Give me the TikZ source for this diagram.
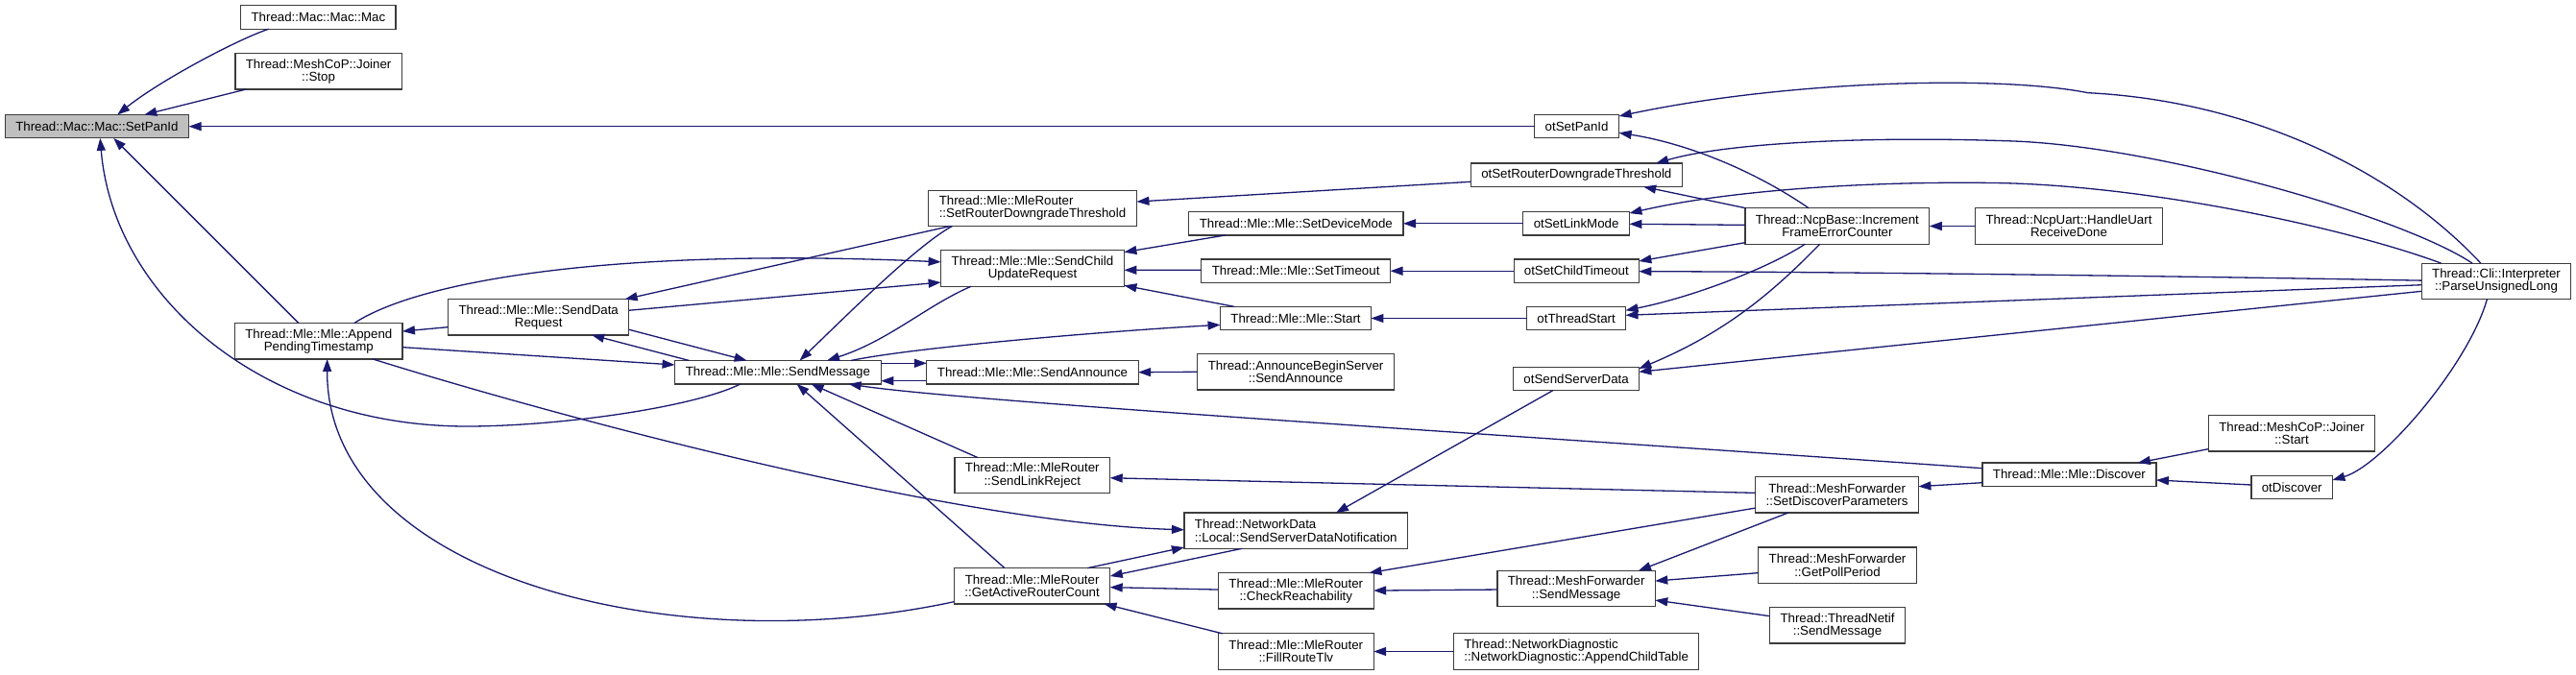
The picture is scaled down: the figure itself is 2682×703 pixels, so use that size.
\documentclass[tikz,border=0pt]{standalone}
\usepackage{fontspec}
\setmainfont{Liberation Sans}
\usetikzlibrary{arrows.meta}
\definecolor{edgeblue}{RGB}{25,25,112}
\definecolor{nodeborder}{RGB}{60,60,60}
\definecolor{rootgray}{RGB}{191,191,191}
\tikzset{
  fn/.style={draw=nodeborder, line width=1.2pt, fill=white, inner sep=0pt, outer sep=0pt, align=center, font=\fontsize{13.3}{13.3}\selectfont},
  oneln/.style={minimum height=24.4pt},
  twoln/.style={minimum height=37.3pt},
  cedge/.style={draw=edgeblue, line width=1.3pt, -{Triangle[length=13pt,width=9pt]}},
}
\begin{document}
\begin{tikzpicture}[x=1pt,y=-1pt]
\fill[white] (0,0) rectangle (2682,703);
\useasboundingbox (0,0) rectangle (2682,703);
% nodes
\node[fn,oneln,minimum width=161.3pt] (mac) at (331.4,18.0) {Thread::Mac::Mac::Mac};
\node[fn,twoln,minimum width=173.1pt] (stop) at (331.6,74.4) {Thread::MeshCoP::Joiner\\::Stop};
\node[fn,oneln,minimum width=191.3pt,fill=rootgray] (setpanid) at (100.9,131.7) {Thread::Mac::Mac::SetPanId};
\node[fn,twoln,minimum width=188.2pt] (sdr) at (560.7,330.3) {Thread::Mle::Mle::SendData\\Request};
\node[fn,twoln,minimum width=174.3pt] (apt) at (331.8,355.3) {Thread::Mle::Mle::Append\\PendingTimestamp};
\node[fn,twoln,minimum width=216.9pt,align=left] (srdt) at (1075.0,216.8) {Thread::Mle::MleRouter\\::SetRouterDowngradeThreshold};
\node[fn,twoln,minimum width=190.8pt] (scur) at (1075.0,279.5) {Thread::Mle::Mle::SendChild\\UpdateRequest};
\node[fn,oneln,minimum width=223.4pt] (sdm) at (1349.3,232.8) {Thread::Mle::Mle::SetDeviceMode};
\node[fn,oneln,minimum width=196.8pt] (sto) at (1349.1,282.2) {Thread::Mle::Mle::SetTimeout};
\node[fn,oneln,minimum width=156.9pt] (start) at (1349.0,331.5) {Thread::Mle::Mle::Start};
\node[fn,oneln,minimum width=88.0pt] (otpan) at (1641.6,131.7) {otSetPanId};
\node[fn,oneln,minimum width=220.3pt] (otsrdt) at (1641.3,182.3) {otSetRouterDowngradeThreshold};
\node[fn,oneln,minimum width=110.6pt] (otlink) at (1641.1,232.8) {otSetLinkMode};
\node[fn,oneln,minimum width=130.1pt] (otchild) at (1641.3,282.2) {otSetChildTimeout};
\node[fn,oneln,minimum width=102.8pt] (otstart) at (1641.1,331.5) {otThreadStart};
\node[fn,twoln,minimum width=191.7pt] (ifec) at (1912.9,235.5) {Thread::NcpBase::Increment\\FrameErrorCounter};
\node[fn,twoln,minimum width=194.9pt] (uart) at (2154.0,235.5) {Thread::NcpUart::HandleUart\\ReceiveDone};
\node[fn,twoln,minimum width=155.7pt] (parse) at (2599.0,292.8) {Thread::Cli::Interpreter\\::ParseUnsignedLong};
\node[fn,oneln,minimum width=214.7pt] (sm) at (809.9,387.7) {Thread::Mle::Mle::SendMessage};
\node[fn,oneln,minimum width=220.3pt] (sa) at (1075.0,387.7) {Thread::Mle::Mle::SendAnnounce};
\node[fn,twoln,minimum width=204.6pt] (abs) at (1349.1,387.3) {Thread::AnnounceBeginServer\\::SendAnnounce};
\node[fn,twoln,minimum width=161.8pt] (slr) at (1074.8,495.2) {Thread::Mle::MleRouter\\::SendLinkReject};
\node[fn,twoln,minimum width=232.8pt,align=left] (ssdn) at (1349.3,552.7) {Thread::NetworkData\\::Local::SendServerDataNotification};
\node[fn,twoln,minimum width=162.2pt] (garc) at (1074.6,610.3) {Thread::Mle::MleRouter\\::GetActiveRouterCount};
\node[fn,twoln,minimum width=161.8pt] (cr) at (1349.3,615.3) {Thread::Mle::MleRouter\\::CheckReachability};
\node[fn,twoln,minimum width=161.8pt] (frt) at (1349.3,678.5) {Thread::Mle::MleRouter\\::FillRouteTlv};
\node[fn,oneln,minimum width=130.5pt] (otssd) at (1641.1,394.3) {otSendServerData};
\node[fn,twoln,minimum width=169.6pt] (sdp) at (1912.6,515.3) {Thread::MeshForwarder\\::SetDiscoverParameters};
\node[fn,twoln,minimum width=164.3pt] (mfsm) at (1641.1,613.0) {Thread::MeshForwarder\\::SendMessage};
\node[fn,twoln,minimum width=164.3pt] (gpp) at (1913.0,588.7) {Thread::MeshForwarder\\::GetPollPeriod};
\node[fn,twoln,minimum width=140.9pt] (tnsm) at (1913.0,651.3) {Thread::ThreadNetif\\::SendMessage};
\node[fn,twoln,minimum width=255.5pt,align=left] (act) at (1641.1,678.5) {Thread::NetworkDiagnostic\\::NetworkDiagnostic::AppendChildTable};
\node[fn,twoln,minimum width=173.6pt] (jstart) at (2386.0,451.3) {Thread::MeshCoP::Joiner\\::Start};
\node[fn,oneln,minimum width=181.0pt] (disc) at (2154.4,494.2) {Thread::Mle::Mle::Discover};
\node[fn,oneln,minimum width=84.4pt] (otdisc) at (2386.2,507.5) {otDiscover};
% edges
\draw[cedge] ([shift={(29,0)}]mac.south west) .. controls (245,42) and (165,85) .. ([shift={(117,0)}]setpanid.north west);
\draw[cedge] ([shift={(11,0)}]stop.south west) -- ([shift={(145,0)}]setpanid.north west);
\draw[cedge] (otpan.west) -- (setpanid.east);
\draw[cedge] ([shift={(66.4,0)}]apt.north west) -- ([shift={(113,0)}]setpanid.south west);
\draw[cedge] ([shift={(68.5,0)}]sm.south west) .. controls (720,425) and (580,444) .. (486,444) .. controls (275,444) and (118,310) .. ([shift={(99,0)}]setpanid.south west);
\draw[cedge] ([shift={(124,0)}]apt.north west) .. controls (440,290) and (650,258) .. ([shift={(0,12)}]scur.north west);
\draw[cedge] ([shift={(0,11.6)}]sdr.north east) -- ([shift={(0,33.2)}]scur.north west);
\draw[cedge] ([shift={(23,0)}]srdt.south west) -- ([shift={(184,0)}]sdr.north west);
\draw[cedge] ([shift={(0,29)}]sdr.north west) -- ([shift={(0,8.4)}]apt.north east);
\draw[cedge] ([shift={(0,25)}]apt.north east) -- ([shift={(0,4.5)}]sm.north west);
\draw[cedge] ([shift={(0,31.6)}]sdr.north east) -- ([shift={(75,0)}]sm.north west);
\draw[cedge] ([shift={(15,0)}]sm.north west) -- ([shift={(149.5,0)}]sdr.south west);
\draw[cedge] ([shift={(25,0)}]srdt.south west) .. controls (955,255) and (880,330) .. ([shift={(130,0)}]sm.north west);
\draw[cedge] ([shift={(31.7,0)}]scur.south west) .. controls (965,318) and (925,355) .. ([shift={(158.5,0)}]sm.north west);
\draw[cedge] ([shift={(183.5,0)}]sm.north west) .. controls (950,362) and (1150,345) .. ([shift={(0,19)}]start.north west);
\draw[cedge] ([shift={(0,2.8)}]sm.north east) -- ([shift={(0,2.8)}]sa.north west);
\draw[cedge] ([shift={(0,21.2)}]sa.north west) -- ([shift={(0,21.2)}]sm.north east);
\draw[cedge] ([shift={(52.5,0)}]garc.north west) -- ([shift={(127,0)}]sm.south west);
\draw[cedge] ([shift={(24,0)}]slr.north west) -- ([shift={(142,0)}]sm.south west);
\draw[cedge] ([shift={(0,5.7)}]disc.north west) .. controls (1600,455) and (1000,418) .. ([shift={(181,0)}]sm.south west);
\draw[cedge] ([shift={(143.4,0)}]apt.south west) .. controls (600,440) and (1000,545) .. ([shift={(0,17.7)}]ssdn.north west);
\draw[cedge] ([shift={(0,35)}]garc.north west) .. controls (700,690) and (340,600) .. ([shift={(96,0)}]apt.south west);
\draw[cedge] ([shift={(138.7,0)}]garc.north west) -- ([shift={(0,36)}]ssdn.north west);
\draw[cedge] ([shift={(60,0)}]ssdn.south west) -- ([shift={(0,8.4)}]garc.north east);
\draw[cedge] ([shift={(0,17.4)}]cr.north west) -- ([shift={(0,20)}]garc.north east);
\draw[cedge] ([shift={(4.4,0)}]frt.north west) -- ([shift={(156,0)}]garc.south west);
\draw[cedge] ([shift={(0,16.7)}]sdp.north west) -- ([shift={(0,21.2)}]slr.north east);
\draw[cedge] ([shift={(41.2,0)}]otssd.south west) -- ([shift={(158,0)}]ssdn.north west);
\draw[cedge] ([shift={(0,32.4)}]sdp.north west) -- ([shift={(157,0)}]cr.north west);
\draw[cedge] ([shift={(0,19.7)}]mfsm.north west) -- ([shift={(0,18.4)}]cr.north east);
\draw[cedge] ([shift={(34.2,0)}]sdp.south west) -- ([shift={(147,0)}]mfsm.north west);
\draw[cedge] ([shift={(0,26.6)}]gpp.north west) -- ([shift={(0,10.7)}]mfsm.north east);
\draw[cedge] ([shift={(0,9)}]tnsm.north west) -- ([shift={(0,30.7)}]mfsm.north east);
\draw[cedge] (act.west) -- (frt.east);
\draw[cedge] (abs.west) -- (sa.east);
\draw[cedge] ([shift={(0,20.7)}]disc.north west) -- ([shift={(0,10)}]sdp.north east);
\draw[cedge] ([shift={(0,35)}]jstart.north west) -- ([shift={(162,0)}]disc.north west);
\draw[cedge] ([shift={(0,9.7)}]otdisc.north west) -- ([shift={(0,18)}]disc.north east);
\draw[cedge] ([shift={(68.3,0)}]parse.south west) .. controls (2570,380) and (2480,485) .. ([shift={(0,4.7)}]otdisc.north east);
\draw[cedge] ([shift={(61.7,0)}]parse.north west) .. controls (2490,175) and (2340,105) .. (2174,96.7) .. controls (2080,78) and (1860,84) .. ([shift={(0,1.5)}]otpan.north east);
\draw[cedge] ([shift={(52.9,0)}]parse.north west) .. controls (2500,225) and (2240,150) .. (2087,146.7) .. controls (1950,142) and (1800,148) .. ([shift={(193,0)}]otsrdt.north west);
\draw[cedge] ([shift={(20.4,0)}]parse.north west) .. controls (2450,240) and (2250,195) .. (2087,190.7) .. controls (1950,188) and (1800,198) .. ([shift={(0,1.5)}]otlink.north east);
\draw[cedge] ([shift={(0,18)}]parse.north west) .. controls (2300,288) and (1900,283) .. ([shift={(0,12.7)}]otchild.north east);
\draw[cedge] ([shift={(0,22.6)}]parse.north west) -- ([shift={(0,9)}]otstart.north east);
\draw[cedge] ([shift={(0,29.2)}]parse.north west) -- ([shift={(0,5.2)}]otssd.north east);
\draw[cedge] ([shift={(66.2,0)}]ifec.north west) .. controls (1830,180) and (1760,150) .. ([shift={(0,18.8)}]otpan.north east);
\draw[cedge] ([shift={(1,0)}]ifec.north west) -- ([shift={(180,0)}]otsrdt.south west);
\draw[cedge] ([shift={(0,17.5)}]ifec.north west) -- ([shift={(0,12.7)}]otlink.north east);
\draw[cedge] ([shift={(0,35.8)}]ifec.north west) -- ([shift={(0,2)}]otchild.north east);
\draw[cedge] ([shift={(62.4,0)}]ifec.south west) .. controls (1840,280) and (1760,310) .. ([shift={(0,4)}]otstart.north east);
\draw[cedge] ([shift={(77.7,0)}]ifec.south west) .. controls (1850,300) and (1800,345) .. ([shift={(0,1.8)}]otssd.north east);
\draw[cedge] (uart.west) -- (ifec.east);
\draw[cedge] ([shift={(0,19.2)}]otsrdt.north west) -- ([shift={(0,11.9)}]srdt.north east);
\draw[cedge] (otlink.west) -- (sdm.east);
\draw[cedge] (otchild.west) -- (sto.east);
\draw[cedge] (otstart.west) -- (start.east);
\draw[cedge] ([shift={(38,0)}]sdm.south west) -- ([shift={(0,1.8)}]scur.north east);
\draw[cedge] ([shift={(0,11.3)}]sto.north west) -- ([shift={(0,20.4)}]scur.north east);
\draw[cedge] ([shift={(14.4,0)}]start.north west) -- ([shift={(0,36.5)}]scur.north east);
\end{tikzpicture}
\end{document}
